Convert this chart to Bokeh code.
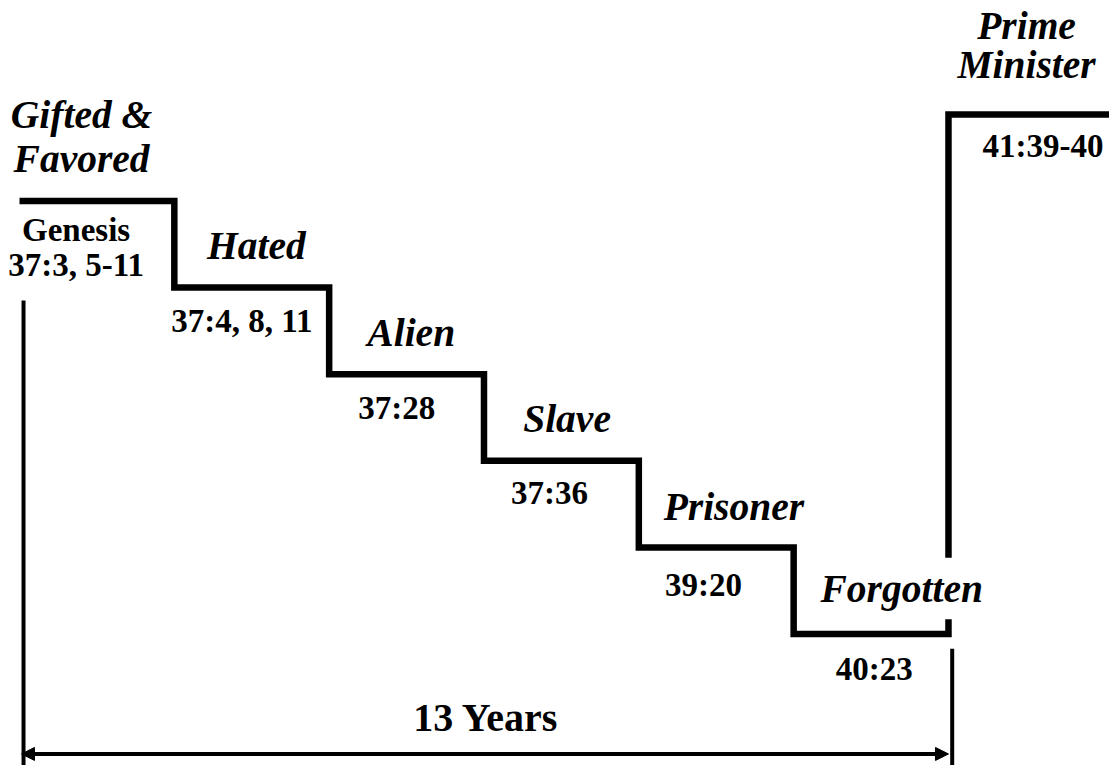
from bokeh.plotting import figure
from bokeh.models import Range1d, Arrow, NormalHead, ColumnDataSource
from bokeh.core.properties import value
from bokeh.embed import file_html
from bokeh.resources import INLINE

# ---- data ----
stages = ["Gifted &\nFavored", "Hated", "Alien", "Slave", "Prisoner", "Forgotten", "Prime\nMinister"]
refs = ["Genesis\n37:3, 5-11", "37:4, 8, 11", "37:28", "37:36", "39:20", "40:23", "41:39-40"]
levels = [6, 5, 4, 3, 2, 1, 7]
span_label = "13 Years"
span_from, span_to = 0, 6

# ---- layout / style ----
W, H = 1109, 765
SX, SY = 154.83, 86.6          # pixels per step / per level
x0 = -19 / SX
top = 6 + 200.5 / SY
FONT = value("'Liberation Serif', 'Times New Roman', serif")
LIFT = 12                      # baseline correction in px

p = figure(width=W, height=H, x_range=Range1d(x0, x0 + W / SX),
           y_range=Range1d(top - H / SY, top), output_backend="svg",
           toolbar_location=None, min_border=0, x_axis_type=None, y_axis_type=None)
p.grid.visible = False
p.outline_line_color = None
p.background_fill_color = "white"
p.border_fill_color = "white"

n = len(levels)
# staircase path
sx, sy = [], []
for i in range(n - 1):
    sx += [i, i + 1]
    sy += [levels[i], levels[i]]
gap_lo, gap_hi = 0.17, 0.88
seg1_x = sx + [n - 1]
seg1_y = sy + [levels[n - 2] + gap_lo]
seg2_x = [n - 1, n - 1, n + 0.3]
seg2_y = [levels[n - 2] + gap_hi, levels[-1], levels[-1]]
p.multi_line(xs=[seg1_x, seg2_x], ys=[seg1_y, seg2_y], line_color="black",
             line_width=6.5, line_join="miter", line_cap="butt")

# text rows
stage_dx = [-20, 0, 0, 1, 13, 26, -4]
stage_dy = [30.5, 29.3, 29.7, 30.2, 28.8, 33.5, 37.0]
stage_lh = [44, 42, 42, 42, 42, 42, 39]
ref_dx = [-10, 1, 1, -1, -2, 14, 28]
ref_dy = [41, 45.7, 45.3, 43.8, 49.5, 46.5, 44]
LH_REF = 35

st = dict(x=[], y=[], t=[], dx=[], dy=[])
rf = dict(x=[], y=[], t=[], dx=[], dy=[])
for i in range(n):
    lines = stages[i].split("\n")
    for j, ln in enumerate(lines):
        st["x"].append(i + 0.53)
        st["y"].append(levels[i])
        st["t"].append(ln)
        st["dx"].append(stage_dx[i])
        st["dy"].append(-(stage_dy[i] + LIFT + (len(lines) - 1 - j) * stage_lh[i]))
    lines = refs[i].split("\n")
    for j, ln in enumerate(lines):
        rf["x"].append(i + 0.43)
        rf["y"].append(levels[i])
        rf["t"].append(ln)
        rf["dx"].append(ref_dx[i])
        rf["dy"].append(ref_dy[i] - LIFT + j * LH_REF)

p.text(x="x", y="y", text="t", x_offset="dx", y_offset="dy", source=ColumnDataSource(st),
       text_font=FONT, text_font_style="bold italic", text_font_size="39.5px",
       text_align="center", text_baseline="alphabetic", text_color="black")
p.text(x="x", y="y", text="t", x_offset="dx", y_offset="dy", source=ColumnDataSource(rf),
       text_font=FONT, text_font_style="bold", text_font_size="33px",
       text_align="center", text_baseline="alphabetic", text_color="black")

# span bracket
bottom = top - H / SY - 0.2
arrow_y = min(levels) - 1.385
p.segment(x0=[span_from + 0.026, span_to + 0.024],
          y0=[levels[span_from] - 1.15, levels[span_to - 1] - 0.17],
          x1=[span_from + 0.026, span_to + 0.024], y1=[bottom, bottom],
          line_color="black", line_width=4)
p.add_layout(Arrow(start=NormalHead(size=13, fill_color="black", line_color="black", line_width=1),
                   end=NormalHead(size=13, fill_color="black", line_color="black", line_width=1),
                   x_start=span_from + 0.013, y_start=arrow_y, x_end=span_to, y_end=arrow_y,
                   line_color="black", line_width=4))
p.text(x=[(span_from + span_to) / 2 + 0.013], y=[arrow_y + 0.29], text=[span_label],
       y_offset=-LIFT + 1, text_font=FONT, text_font_style="bold", text_font_size="40px",
       text_align="center", text_baseline="alphabetic", text_color="black")

open("out.html", "w").write(file_html(p, INLINE))
